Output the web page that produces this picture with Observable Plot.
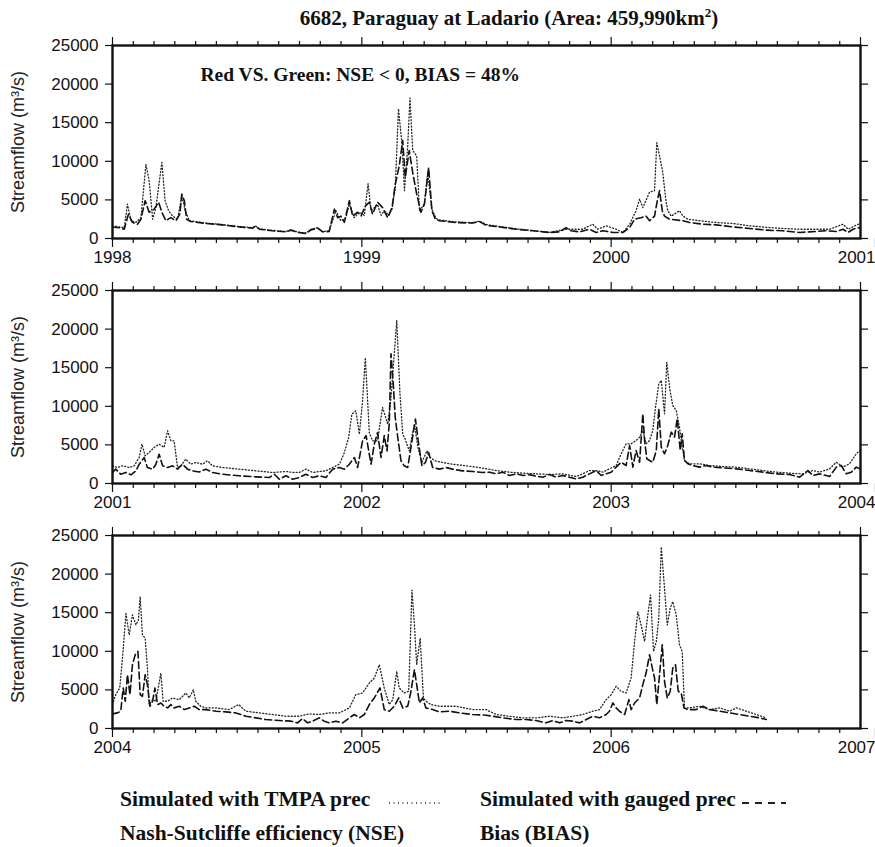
<!DOCTYPE html>
<html><head><meta charset="utf-8">
<script src="https://cdn.jsdelivr.net/npm/d3@7"></script>
<script src="https://cdn.jsdelivr.net/npm/@observablehq/plot@0.6"></script>
<style>
body{margin:0;background:#fff;}
#wrap{position:relative;width:875px;height:847px;overflow:hidden;background:#fff;}
#wrap svg.plt{position:absolute;left:0;}
.serif{font-family:"Liberation Serif","Times New Roman",serif;font-weight:bold;color:#111;position:absolute;white-space:nowrap;line-height:1;}
</style></head><body><div id="wrap"></div>
<script>
// ---- data: [decimal year, streamflow m3/s] ----
const title = "6682, Paraguay at Ladario (Area: 459,990km";
const note = "Red VS. Green: NSE < 0, BIAS = 48%";
const yLabel = "Streamflow (m³/s)";
const yTicks = [0, 5000, 10000, 15000, 20000, 25000];
const panelStarts = [1998, 2001, 2004];
const legendLabels = ["Simulated with TMPA prec", "Simulated with gauged prec", "Nash-Sutcliffe efficiency (NSE)", "Bias (BIAS)"];

const tmpa1 = [[1998.000,1640],[1998.027,1500],[1998.047,1400],[1998.060,4450],[1998.074,2300],[1998.094,2100],[1998.114,2700],[1998.134,9600],[1998.147,7500],[1998.161,2500],[1998.174,4000],[1998.198,9850],[1998.211,4900],[1998.225,3600],[1998.241,2900],[1998.261,2500],[1998.278,5500],[1998.292,3600],[1998.308,2300],[1998.375,2000],[1998.441,1800],[1998.508,1550],[1998.562,1400],[1998.573,1650],[1998.589,1250],[1998.642,1050],[1998.696,900],[1998.716,1150],[1998.742,850],[1998.776,700],[1998.796,1200],[1998.823,1400],[1998.843,900],[1998.869,1000],[1998.896,3600],[1998.916,2300],[1998.936,2700],[1998.950,4450],[1998.970,2700],[1998.990,3400],[1999.010,3000],[1999.025,7100],[1999.037,3600],[1999.050,4000],[1999.063,4400],[1999.077,3000],[1999.090,3600],[1999.107,3000],[1999.121,3800],[1999.134,6500],[1999.147,16800],[1999.161,12200],[1999.171,6200],[1999.184,12000],[1999.193,18200],[1999.204,11400],[1999.220,10700],[1999.231,3600],[1999.251,4500],[1999.264,8500],[1999.281,3800],[1999.298,2600],[1999.311,2400],[1999.378,2150],[1999.445,2050],[1999.471,2250],[1999.500,1800],[1999.619,1250],[1999.753,800],[1999.819,1200],[1999.886,1200],[1999.926,1850],[1999.946,1200],[1999.980,1640],[2000.020,1200],[2000.047,780],[2000.074,1850],[2000.100,3600],[2000.114,5100],[2000.127,4000],[2000.154,6000],[2000.174,6200],[2000.183,12400],[2000.194,10700],[2000.207,8550],[2000.218,5300],[2000.227,3600],[2000.241,2900],[2000.274,3600],[2000.288,2900],[2000.308,2500],[2000.355,2300],[2000.421,2070],[2000.488,1950],[2000.555,1640],[2000.622,1450],[2000.689,1300],[2000.756,1200],[2000.823,1200],[2000.876,1200],[2000.930,1850],[2000.950,1200],[2000.977,1640],[2001.000,1950]];

const gauged1 = [[1998.000,1500],[1998.027,1400],[1998.047,1200],[1998.064,3150],[1998.080,2100],[1998.100,1850],[1998.114,2500],[1998.131,4900],[1998.147,3400],[1998.167,3800],[1998.185,4700],[1998.198,3400],[1998.214,2300],[1998.234,2700],[1998.254,2300],[1998.270,3150],[1998.278,5750],[1998.288,4900],[1998.297,2500],[1998.314,2200],[1998.375,1950],[1998.441,1770],[1998.508,1500],[1998.562,1340],[1998.573,1600],[1998.589,1200],[1998.642,1000],[1998.696,860],[1998.716,1080],[1998.742,780],[1998.776,650],[1998.796,1120],[1998.823,1340],[1998.843,860],[1998.869,900],[1998.890,3800],[1998.903,2700],[1998.916,2900],[1998.930,2100],[1998.950,4900],[1998.963,2900],[1998.983,3400],[1998.997,2900],[1999.014,4200],[1999.030,4700],[1999.043,3150],[1999.063,4700],[1999.083,4000],[1999.104,2700],[1999.121,4000],[1999.134,7000],[1999.150,9400],[1999.164,12700],[1999.174,7900],[1999.190,11400],[1999.204,8550],[1999.220,5750],[1999.237,3400],[1999.251,4450],[1999.268,9200],[1999.281,3600],[1999.295,2500],[1999.311,2300],[1999.378,2070],[1999.445,2000],[1999.471,2200],[1999.500,1700],[1999.552,1500],[1999.619,1200],[1999.686,1000],[1999.753,780],[1999.793,860],[1999.819,1400],[1999.839,1000],[1999.873,860],[1999.913,1200],[1999.940,780],[1999.967,1000],[2000.007,780],[2000.047,780],[2000.074,1400],[2000.094,2500],[2000.120,2700],[2000.140,2900],[2000.154,2300],[2000.174,2900],[2000.185,4900],[2000.194,6200],[2000.205,3600],[2000.214,2900],[2000.234,2500],[2000.288,2300],[2000.314,2070],[2000.368,1850],[2000.421,1770],[2000.488,1500],[2000.555,1300],[2000.622,1080],[2000.689,1000],[2000.756,780],[2000.796,860],[2000.863,1000],[2000.903,900],[2000.930,1200],[2000.950,780],[2000.970,1200],[2000.990,1400],[2001.000,1350]];

const tmpa2 = [[2001.000,2290],[2001.020,2070],[2001.040,2290],[2001.067,2070],[2001.087,2290],[2001.107,3370],[2001.118,5100],[2001.131,3590],[2001.147,4020],[2001.167,4670],[2001.187,5100],[2001.207,4670],[2001.221,6830],[2001.234,5530],[2001.247,5530],[2001.261,2070],[2001.274,2290],[2001.294,3150],[2001.314,2500],[2001.334,2720],[2001.361,2500],[2001.381,2940],[2001.401,2290],[2001.441,2070],[2001.508,1860],[2001.575,1640],[2001.642,1430],[2001.696,1560],[2001.722,1430],[2001.749,1430],[2001.776,1860],[2001.803,1430],[2001.829,1560],[2001.856,1640],[2001.883,2070],[2001.910,2500],[2001.930,4020],[2001.947,5960],[2001.960,8990],[2001.976,9420],[2001.990,6390],[2002.003,10700],[2002.014,16300],[2002.030,6600],[2002.043,5530],[2002.063,5530],[2002.083,9850],[2002.104,7690],[2002.117,11100],[2002.140,21100],[2002.153,11600],[2002.164,6390],[2002.174,5750],[2002.190,4230],[2002.211,7690],[2002.225,4670],[2002.241,2720],[2002.261,4230],[2002.274,3370],[2002.294,2940],[2002.324,2720],[2002.364,2500],[2002.418,2290],[2002.471,2070],[2002.539,1680],[2002.592,1470],[2002.646,1340],[2002.699,1250],[2002.753,1170],[2002.806,1250],[2002.860,900],[2002.886,1250],[2002.913,1680],[2002.940,1680],[2002.967,1470],[2002.993,1900],[2003.020,2330],[2003.040,3850],[2003.060,5140],[2003.080,5140],[2003.100,5570],[2003.114,6000],[2003.127,6870],[2003.140,5140],[2003.154,5570],[2003.167,6870],[2003.178,9890],[2003.191,12900],[2003.201,13350],[2003.214,9030],[2003.223,15700],[2003.234,12480],[2003.247,10100],[2003.261,9460],[2003.274,7300],[2003.285,4710],[2003.294,2980],[2003.314,2550],[2003.354,2550],[2003.395,2330],[2003.448,2200],[2003.502,2120],[2003.555,1900],[2003.609,1680],[2003.662,1470],[2003.716,1340],[2003.769,1250],[2003.809,1680],[2003.836,1470],[2003.876,1900],[2003.903,2760],[2003.930,2120],[2003.956,2550],[2003.983,3850],[2003.997,4280]];

const gauged2 = [[2001.000,1430],[2001.013,1860],[2001.033,1200],[2001.054,1430],[2001.074,1120],[2001.094,1640],[2001.107,2500],[2001.127,3370],[2001.140,2070],[2001.161,1860],[2001.174,2500],[2001.187,3800],[2001.201,2290],[2001.221,2070],[2001.241,2290],[2001.261,1860],[2001.281,2500],[2001.301,1860],[2001.321,1640],[2001.348,1500],[2001.375,1860],[2001.401,1430],[2001.441,1200],[2001.508,1000],[2001.575,860],[2001.629,780],[2001.649,1200],[2001.669,560],[2001.696,1000],[2001.722,560],[2001.749,780],[2001.776,1200],[2001.803,780],[2001.829,1000],[2001.856,780],[2001.883,1860],[2001.910,2070],[2001.930,1860],[2001.950,2500],[2001.970,3370],[2001.983,2070],[2002.003,5530],[2002.017,6200],[2002.037,2500],[2002.050,5100],[2002.063,6600],[2002.077,3370],[2002.090,6200],[2002.101,4230],[2002.110,7700],[2002.117,16800],[2002.126,12900],[2002.134,8550],[2002.144,6000],[2002.157,2940],[2002.170,2290],[2002.184,2070],[2002.197,4670],[2002.215,8340],[2002.228,5100],[2002.241,2290],[2002.255,2720],[2002.268,4020],[2002.284,2070],[2002.311,1860],[2002.338,2070],[2002.364,1860],[2002.404,1640],[2002.445,1560],[2002.485,1430],[2002.512,1470],[2002.539,1250],[2002.565,1470],[2002.592,1040],[2002.619,1250],[2002.646,1040],[2002.672,1150],[2002.699,950],[2002.726,820],[2002.753,1170],[2002.779,820],[2002.806,1040],[2002.833,820],[2002.860,600],[2002.886,820],[2002.913,1250],[2002.940,1680],[2002.960,1040],[2002.980,1250],[2003.000,1470],[2003.020,2120],[2003.040,2760],[2003.060,2330],[2003.074,4920],[2003.087,2120],[2003.100,4280],[2003.114,2760],[2003.127,9030],[2003.134,5570],[2003.143,3200],[2003.154,2980],[2003.167,2760],[2003.181,4280],[2003.191,9680],[2003.201,4710],[2003.214,3850],[2003.227,4920],[2003.241,6650],[2003.254,6000],[2003.265,8380],[2003.277,4280],[2003.285,6440],[2003.294,2980],[2003.308,2550],[2003.328,2330],[2003.354,2120],[2003.381,2330],[2003.408,2120],[2003.448,2030],[2003.502,1900],[2003.555,1680],[2003.609,1470],[2003.662,1250],[2003.716,1170],[2003.756,820],[2003.789,1680],[2003.809,1040],[2003.836,1250],[2003.876,900],[2003.903,2120],[2003.923,2330],[2003.943,1250],[2003.963,1470],[2003.983,2120],[2003.997,1900]];

const tmpa3 = [[2004.000,3100],[2004.013,4390],[2004.029,5250],[2004.040,9120],[2004.054,14900],[2004.067,12130],[2004.080,14710],[2004.094,13420],[2004.104,14060],[2004.111,17070],[2004.120,12130],[2004.131,11700],[2004.140,7830],[2004.147,3100],[2004.161,3740],[2004.174,3530],[2004.194,7180],[2004.203,3530],[2004.221,3530],[2004.241,3960],[2004.268,3740],[2004.294,4600],[2004.308,3960],[2004.324,5030],[2004.334,3530],[2004.354,2880],[2004.375,2670],[2004.415,2670],[2004.468,2450],[2004.506,3100],[2004.535,2240],[2004.589,2020],[2004.642,1810],[2004.696,1590],[2004.749,1590],[2004.789,1890],[2004.829,1810],[2004.869,2020],[2004.910,2020],[2004.950,2670],[2004.976,4390],[2005.003,4600],[2005.030,5890],[2005.050,6540],[2005.070,8260],[2005.090,5250],[2005.110,3100],[2005.124,3740],[2005.140,7400],[2005.150,5250],[2005.170,4600],[2005.188,4820],[2005.201,17930],[2005.211,13420],[2005.220,8260],[2005.234,11700],[2005.247,3960],[2005.257,3530],[2005.277,3100],[2005.311,2880],[2005.378,2880],[2005.445,2450],[2005.498,2450],[2005.539,1810],[2005.592,1590],[2005.646,1380],[2005.699,1380],[2005.753,1590],[2005.806,1380],[2005.846,1590],[2005.886,1810],[2005.926,2240],[2005.953,2450],[2005.980,3740],[2006.000,4390],[2006.020,5460],[2006.040,4820],[2006.060,4600],[2006.080,6540],[2006.094,11270],[2006.107,15140],[2006.120,13420],[2006.134,11270],[2006.147,14710],[2006.158,17290],[2006.170,9980],[2006.181,11270],[2006.191,14280],[2006.201,23520],[2006.214,18150],[2006.225,13420],[2006.237,15570],[2006.247,16430],[2006.261,14710],[2006.274,10840],[2006.285,9980],[2006.294,2670],[2006.314,2670],[2006.354,2880],[2006.395,2450],[2006.435,2670],[2006.475,2240],[2006.502,2670],[2006.542,2240],[2006.582,1810],[2006.622,1380]];

const gauged3 = [[2004.000,1890],[2004.020,2020],[2004.033,2240],[2004.043,5250],[2004.051,3530],[2004.060,6970],[2004.070,4390],[2004.080,8260],[2004.091,9550],[2004.102,9980],[2004.111,4390],[2004.120,4170],[2004.131,6970],[2004.140,5680],[2004.150,2880],[2004.161,3530],[2004.170,5250],[2004.181,3100],[2004.194,3310],[2004.207,2880],[2004.221,2670],[2004.234,3100],[2004.247,2670],[2004.268,2880],[2004.288,2450],[2004.308,2670],[2004.328,2880],[2004.348,2450],[2004.375,2450],[2004.415,2240],[2004.455,2150],[2004.495,2020],[2004.535,1590],[2004.575,1380],[2004.615,1160],[2004.669,1030],[2004.716,950],[2004.742,730],[2004.762,1290],[2004.783,730],[2004.803,950],[2004.829,1380],[2004.849,950],[2004.869,730],[2004.896,950],[2004.923,730],[2004.950,1380],[2004.970,1810],[2004.990,1380],[2005.010,1810],[2005.030,3100],[2005.050,3960],[2005.073,5250],[2005.090,2450],[2005.110,2240],[2005.130,2880],[2005.148,3960],[2005.164,2670],[2005.184,2880],[2005.197,4820],[2005.211,7610],[2005.220,5680],[2005.231,3310],[2005.244,3960],[2005.257,2670],[2005.284,2450],[2005.311,2150],[2005.351,2240],[2005.391,2020],[2005.445,1810],[2005.498,1720],[2005.525,1590],[2005.565,1380],[2005.619,1160],[2005.659,1160],[2005.699,1030],[2005.739,730],[2005.766,1030],[2005.793,730],[2005.819,1030],[2005.846,950],[2005.873,730],[2005.900,1160],[2005.926,1590],[2005.953,1380],[2005.980,1810],[2005.993,2240],[2006.007,3310],[2006.020,2670],[2006.033,2240],[2006.054,1810],[2006.071,3740],[2006.080,2450],[2006.094,3310],[2006.114,3960],[2006.127,5680],[2006.140,7180],[2006.154,9550],[2006.165,7830],[2006.174,6540],[2006.183,3100],[2006.194,6970],[2006.205,10840],[2006.214,6110],[2006.225,3960],[2006.237,4820],[2006.247,7830],[2006.258,8260],[2006.269,4820],[2006.281,4600],[2006.292,2670],[2006.308,2450],[2006.341,2450],[2006.368,2880],[2006.395,2450],[2006.435,2240],[2006.475,2020],[2006.515,1810],[2006.555,1590],[2006.595,1380],[2006.622,1160]];

const tmpaSeries = [tmpa1, tmpa2, tmpa3];
const gaugedSeries = [gauged1, gauged2, gauged3];

// ---- drawing ----
const wrap = document.getElementById("wrap");
const tickFont = "Liberation Sans, Arial, Helvetica, sans-serif";
const serif = "Liberation Serif, Times New Roman, serif";
const dotDash = "1,2.2";
const longDash = "7,3.5";
const fs = 17;

panelStarts.forEach((y0, i) => {
  const yearTicks = d3.range(y0, y0 + 4);
  const monthTicks = d3.range(1, 36).filter(k => k % 12 !== 0).map(k => y0 + k / 12);
  const toObj = d => ({t: d[0], v: d[1]});
  const marks = [
    Plot.axisX({anchor: "bottom", ticks: monthTicks, tickSize: 5, tickFormat: () => "", label: null, strokeWidth: 1.2}),
    Plot.axisX({anchor: "top", ticks: monthTicks, tickSize: 5, tickFormat: () => "", label: null, strokeWidth: 1.2}),
    Plot.axisX({anchor: "top", ticks: yearTicks, tickSize: 9, tickFormat: () => "", label: null, strokeWidth: 1.2}),
    Plot.axisX({anchor: "bottom", ticks: yearTicks.slice(0, 3), tickSize: 9, tickPadding: 3, tickFormat: "d", label: null, fontSize: fs, strokeWidth: 1.2}),
    Plot.axisX({anchor: "bottom", ticks: yearTicks.slice(3), tickSize: 9, tickPadding: 3, tickFormat: "d", label: null, fontSize: fs, strokeWidth: 1.2, textAnchor: "end", dx: 15}),
    Plot.axisY({anchor: "left", ticks: yTicks, tickSize: 7, tickPadding: 7, tickFormat: "d", label: null, fontSize: fs, strokeWidth: 1.2}),
    Plot.axisY({anchor: "right", ticks: yTicks, tickSize: 7, tickFormat: () => "", label: null, strokeWidth: 1.2}),
    Plot.text([yLabel], {frameAnchor: "left", text: d => d, rotate: -90, textAnchor: "middle", dx: -94, fontSize: 18, fontFamily: tickFont, fill: "#222"}),
    Plot.line(tmpaSeries[i].map(toObj), {x: "t", y: "v", stroke: "#222", strokeWidth: 1.3, strokeDasharray: dotDash}),
    Plot.line(gaugedSeries[i].map(toObj), {x: "t", y: "v", stroke: "#111", strokeWidth: 1.6, strokeDasharray: longDash}),
    Plot.frame({stroke: "#111", strokeWidth: 2.4})
  ];
  if (i === 0) {
    marks.push(Plot.text([note], {frameAnchor: "top-left", text: d => d, dx: 88, dy: 29, textAnchor: "start", lineAnchor: "middle", fontFamily: serif, fontWeight: "bold", fontSize: 19.5, fill: "#111"}));
  }
  const svg = Plot.plot({
    width: 875, height: 268,
    marginLeft: 112, marginRight: 15, marginTop: 45, marginBottom: 30,
    style: {fontFamily: tickFont, fontSize: fs + "px", color: "#111", background: "transparent", overflow: "visible"},
    x: {type: "linear", domain: [y0, y0 + 3]},
    y: {domain: [0, 25000]},
    marks
  });
  svg.classList.add("plt");
  svg.style.top = (i * 245) + "px";
  wrap.appendChild(svg);
});

// title
const t = document.createElement("div");
t.className = "serif";
t.style.cssText += "font-size:21px;top:6px;left:509px;transform:translateX(-50%);";
t.innerHTML = title + "<sup style='font-size:13px'>2</sup>)";
wrap.appendChild(t);

// legend
function label(txt, x, y) {
  const d = document.createElement("div");
  d.className = "serif";
  d.style.cssText += `font-size:21.5px;left:${x}px;top:${y}px;`;
  d.textContent = txt;
  wrap.appendChild(d);
}
function sample(x, y, w, dash, sw) {
  const ns = "http://www.w3.org/2000/svg";
  const s = document.createElementNS(ns, "svg");
  s.setAttribute("width", w); s.setAttribute("height", 6);
  s.style.cssText = `position:absolute;left:${x}px;top:${y - 3}px;`;
  const l = document.createElementNS(ns, "line");
  l.setAttribute("x1", 0); l.setAttribute("x2", w); l.setAttribute("y1", 3); l.setAttribute("y2", 3);
  l.setAttribute("stroke", "#222"); l.setAttribute("stroke-width", sw); l.setAttribute("stroke-dasharray", dash);
  s.appendChild(l); wrap.appendChild(s);
}
label(legendLabels[0], 120, 789);
sample(389, 803, 52, "1,3.5", 1.3);
label(legendLabels[1], 480, 789);
sample(742, 803, 44, "7,6", 1.8);
label(legendLabels[2], 120, 823);
label(legendLabels[3], 480, 823);
</script></body></html>
